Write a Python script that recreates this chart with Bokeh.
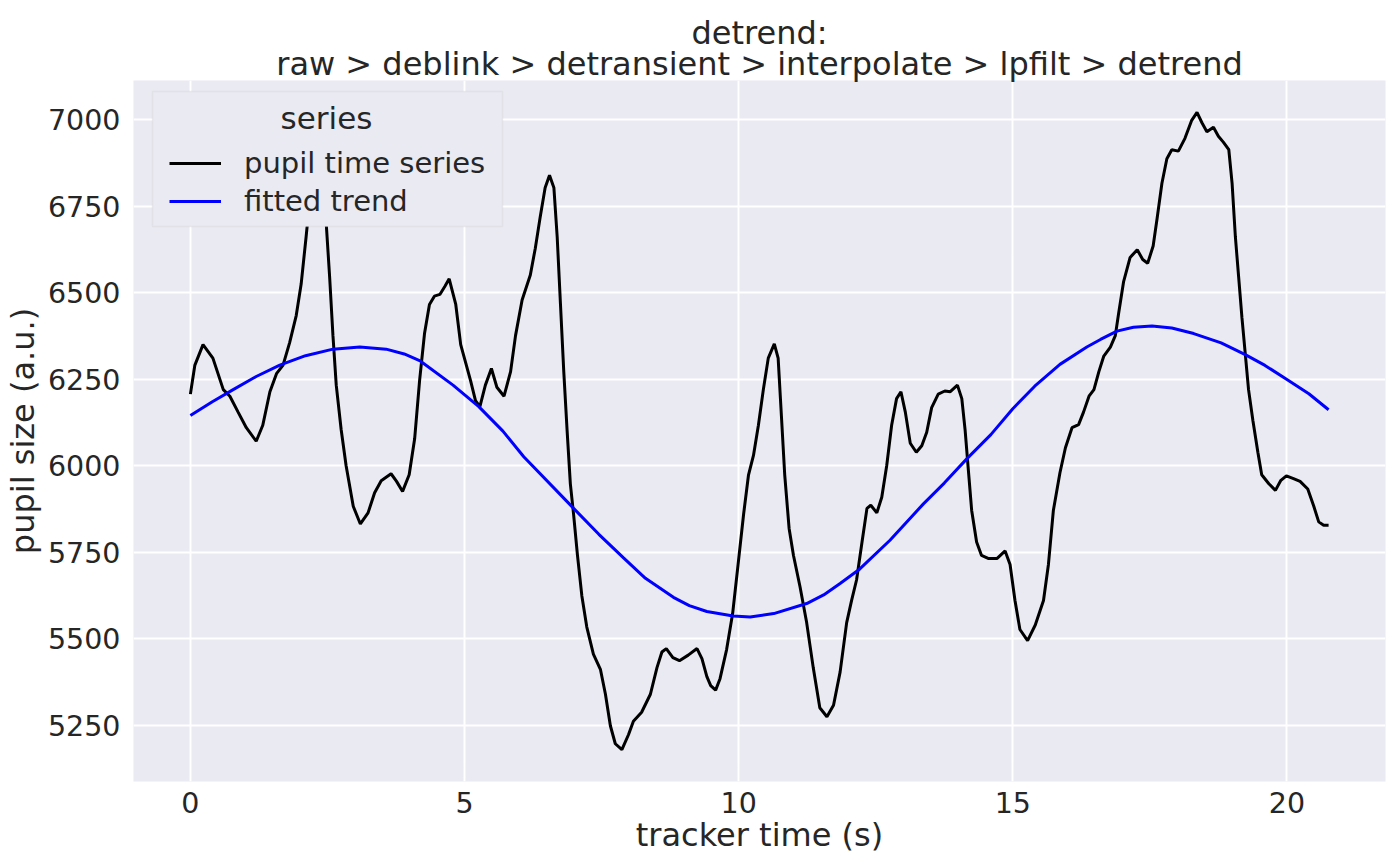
from bokeh.plotting import figure
from bokeh.models import Range1d, FixedTicker, Legend, LegendItem, Label, BoxAnnotation, Title
from bokeh.embed import file_html
from bokeh.resources import INLINE

# ---------------- data ----------------
t_pupil = [0.00, 0.08, 0.23, 0.41, 0.60, 0.72, 0.87, 1.02, 1.20, 1.32, 1.45, 1.57, 1.69,
           1.81, 1.93, 2.02, 2.11, 2.13, 2.22, 2.32, 2.42, 2.48, 2.54, 2.60, 2.66, 2.75,
           2.84, 2.97, 3.10, 3.24, 3.36, 3.48, 3.66, 3.76, 3.87, 3.99, 4.09, 4.18, 4.27,
           4.36, 4.45, 4.55, 4.64, 4.72, 4.84, 4.93, 5.02, 5.11, 5.20, 5.28, 5.38, 5.49,
           5.59, 5.72, 5.84, 5.93, 6.05, 6.20, 6.29, 6.38, 6.47, 6.55, 6.63, 6.69, 6.75,
           6.81, 6.87, 6.93, 6.99, 7.06, 7.14, 7.23, 7.35, 7.48, 7.57, 7.66, 7.75, 7.87,
           7.99, 8.08, 8.23, 8.39, 8.51, 8.60, 8.68, 8.80, 8.92, 9.08, 9.24, 9.33, 9.42,
           9.49, 9.58, 9.66, 9.78, 9.89, 9.99, 10.09, 10.18, 10.27, 10.36, 10.45, 10.54,
           10.65, 10.72, 10.78, 10.84, 10.92, 11.00, 11.12, 11.24, 11.36, 11.48, 11.61,
           11.73, 11.85, 11.97, 12.06, 12.15, 12.25, 12.34, 12.41, 12.52, 12.61, 12.70,
           12.79, 12.88, 12.96, 13.04, 13.13, 13.24, 13.34, 13.43, 13.52, 13.64, 13.76,
           13.86, 13.99, 14.07, 14.13, 14.19, 14.25, 14.34, 14.43, 14.56, 14.71, 14.86,
           14.95, 15.04, 15.13, 15.27, 15.41, 15.56, 15.65, 15.74, 15.86, 15.96, 16.08,
           16.20, 16.29, 16.39, 16.48, 16.57, 16.66, 16.78, 16.87, 16.93, 17.02, 17.14,
           17.27, 17.37, 17.46, 17.56, 17.63, 17.72, 17.81, 17.90, 18.02, 18.14, 18.26,
           18.36, 18.45, 18.54, 18.66, 18.75, 18.84, 18.94, 19.00, 19.06, 19.12, 19.18,
           19.24, 19.30, 19.38, 19.47, 19.54, 19.67, 19.79, 19.89, 19.99, 20.12, 20.24,
           20.38, 20.49, 20.58, 20.67, 20.76]
v_pupil = [6207, 6290, 6350, 6311, 6220, 6201, 6155, 6110, 6071, 6117, 6214, 6266, 6291,
           6356, 6434, 6525, 6661, 6693, 6800, 6850, 6800, 6693, 6544, 6376, 6233, 6104,
           6000, 5883, 5832, 5864, 5922, 5957, 5977, 5955, 5926, 5974, 6078, 6246, 6382,
           6466, 6490, 6495, 6518, 6540, 6466, 6350, 6298, 6246, 6188, 6171, 6233, 6281,
           6227, 6201, 6272, 6376, 6479, 6551, 6628, 6719, 6803, 6839, 6803, 6661, 6466,
           6272, 6104, 5948, 5858, 5741, 5624, 5534, 5456, 5411, 5340, 5249, 5197, 5180,
           5223, 5262, 5288, 5340, 5417, 5462, 5472, 5446, 5437, 5453, 5472, 5443, 5391,
           5365, 5352, 5385, 5469, 5573, 5716, 5860, 5974, 6030, 6117, 6220, 6311,
           6352, 6311, 6143, 5974, 5819, 5741, 5650, 5547, 5417, 5301, 5275,
           5308, 5404, 5547, 5611, 5670, 5780, 5877, 5886, 5864, 5909, 6000,
           6117, 6194, 6214, 6155, 6065, 6039, 6058, 6097, 6168, 6207, 6216,
           6214, 6233, 6194, 6104, 5987, 5871, 5780, 5741, 5732, 5732, 5754,
           5715, 5611, 5527, 5495, 5540, 5611, 5715, 5871, 5980, 6052, 6110,
           6119, 6155, 6201, 6220, 6272, 6317, 6343, 6376, 6440, 6531, 6602,
           6624, 6596, 6585, 6635, 6712, 6816, 6887, 6913, 6909, 6946, 6997,
           7021, 6991, 6965, 6978, 6952, 6935, 6913, 6816, 6661, 6544, 6427,
           6324, 6220, 6130, 6039, 5974, 5948, 5929, 5958, 5971, 5963, 5955,
           5933, 5883, 5838, 5828, 5828]

t_trend = [0.00, 0.40, 0.78, 1.20, 1.63, 2.10, 2.60, 3.09, 3.57, 3.90, 4.18, 4.79, 5.26,
           5.70, 6.08, 6.99, 7.45, 7.90, 8.30, 8.81, 9.10, 9.42, 9.90, 10.21, 10.64, 11.24,
           11.55, 11.85, 12.21, 12.76, 13.37, 13.75, 14.16, 14.60, 15.00, 15.40, 15.86,
           16.35, 16.60, 16.90, 17.20, 17.54, 17.90, 18.30, 18.80, 19.24, 19.60, 20.00,
           20.40, 20.76]
v_trend = [6145, 6185, 6220, 6258, 6291, 6318, 6337, 6343, 6337, 6323, 6304, 6233, 6171,
           6100, 6026, 5877, 5802, 5734, 5675, 5620, 5596, 5579, 5566, 5563, 5573, 5602,
           5627, 5660, 5702, 5785, 5890, 5950, 6020, 6090, 6165, 6230, 6293,
           6343, 6365, 6389, 6400, 6404, 6398, 6382, 6355, 6321, 6290, 6249,
           6208, 6162]

x_ticks = [0, 5, 10, 15, 20]
y_ticks = [5250, 5500, 5750, 6000, 6250, 6500, 6750, 7000]

series_names = ["pupil time series", "fitted trend"]
series_colors = ["black", "blue"]
legend_title = "series"
title_line1 = "detrend:"
title_line2 = "raw > deblink > detransient > interpolate > lpfilt > detrend"
x_label = "tracker time (s)"
y_label = "pupil size (a.u.)"

# ---------------- layout / style ----------------
FONT = "DejaVu Sans"
TXT = "#262626"
BG = "#EAEAF2"
FW, FH = 1252, 701

xmin, xmax = min(t_pupil + t_trend), max(t_pupil + t_trend)
ymin, ymax = min(v_pupil + v_trend), max(v_pupil + v_trend)
xpad = 0.05 * (xmax - xmin)
ypad = 0.05 * (ymax - ymin)

p = figure(frame_width=FW, frame_height=FH, output_backend="svg", toolbar_location=None,
           x_range=Range1d(xmin - xpad, xmax + xpad),
           y_range=Range1d(ymin - ypad, ymax + ypad),
           min_border_left=120, min_border_right=7, min_border_top=80, min_border_bottom=77)

p.background_fill_color = BG
p.border_fill_color = "white"
p.outline_line_color = None

p.xaxis.ticker = FixedTicker(ticks=x_ticks)
p.yaxis.ticker = FixedTicker(ticks=y_ticks)
p.xgrid.ticker = FixedTicker(ticks=x_ticks)
p.ygrid.ticker = FixedTicker(ticks=y_ticks)
p.grid.grid_line_color = "white"
p.grid.grid_line_width = 2

for ax in (p.xaxis, p.yaxis):
    ax.axis_line_color = None
    ax.major_tick_line_color = None
    ax.minor_tick_line_color = None
    ax.major_label_text_font = FONT
    ax.major_label_text_font_size = "28.5px"
    ax.major_label_text_color = TXT
    ax.axis_label_text_font = FONT
    ax.axis_label_text_font_size = "32px"
    ax.axis_label_text_font_style = "normal"
    ax.axis_label_text_color = TXT

p.xaxis.axis_label = x_label
p.yaxis.axis_label = y_label
p.xaxis.major_label_standoff = 4
p.yaxis.major_label_standoff = 7
p.xaxis.axis_label_standoff = 0
p.yaxis.axis_label_standoff = 3

r1 = p.line(t_pupil, v_pupil, line_color=series_colors[0], line_width=3)
r2 = p.line(t_trend, v_trend, line_color=series_colors[1], line_width=3)

# legend frame
box = BoxAnnotation(left=19, right=369, top=690, bottom=555,
                    left_units="screen", right_units="screen",
                    top_units="screen", bottom_units="screen",
                    fill_color=BG, fill_alpha=1.0,
                    line_color="#CCCCCC", line_width=1.5)
p.add_layout(box)

p.add_layout(Label(x=193, y=664, x_units="screen", y_units="screen", text=legend_title,
                   text_align="center", text_baseline="alphabetic",
                   text_font=FONT, text_font_size="31px", text_color=TXT))

legend = Legend(items=[LegendItem(label=series_names[0], renderers=[r1]),
                       LegendItem(label=series_names[1], renderers=[r2])],
                location=(36, 561), padding=0, margin=0, spacing=0,
                glyph_width=52, glyph_height=38, label_height=38, label_standoff=23,
                label_text_font=FONT, label_text_font_size="29px", label_text_color=TXT,
                background_fill_alpha=0, border_line_alpha=0)
p.add_layout(legend)

# two-line title (second line is closest to the plot)
for line, so in ((title_line2, -4), (title_line1, -15)):
    p.add_layout(Title(text=line, align="center", standoff=so,
                       text_font=FONT, text_font_size="32px", text_font_style="normal",
                       text_color=TXT), "above")

open("out.html", "w").write(file_html(p, INLINE))
